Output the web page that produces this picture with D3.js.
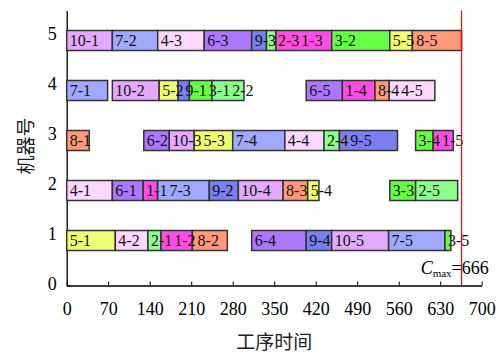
<!DOCTYPE html>
<html>
<head>
<meta charset="utf-8">
<script src="https://cdn.jsdelivr.net/npm/d3@7"></script>
<style>
  body { margin: 0; background: #fff; }
</style>
</head>
<body>
<svg id="chart" width="502" height="354"></svg>
<script>
// Machine axis and time axis ticks
const machineTicks = [0, 1, 2, 3, 4, 5];
const timeTicks = [0, 70, 140, 210, 280, 350, 420, 490, 560, 630, 700];

// Operations: "job-op" label, machine, start and end time
const opLabels = [
  "10-1", "7-2", "4-3", "6-3", "9-3", "2-3", "1-3", "3-2", "5-5", "8-5",
  "7-1", "10-2", "5-2", "9-1", "3-1", "2-2", "6-5", "1-4", "8-4", "4-5",
  "8-1", "6-2", "10-3", "5-3", "7-4", "4-4", "2-4", "9-5", "3-4", "1-5",
  "4-1", "6-1", "1-1", "7-3", "9-2", "10-4", "8-3", "5-4", "3-3", "2-5",
  "5-1", "4-2", "2-1", "1-2", "8-2", "6-4", "9-4", "10-5", "7-5", "3-5"
];
const opMachine = [
  5, 5, 5, 5, 5, 5, 5, 5, 5, 5,
  4, 4, 4, 4, 4, 4, 4, 4, 4, 4,
  3, 3, 3, 3, 3, 3, 3, 3, 3, 3,
  2, 2, 2, 2, 2, 2, 2, 2, 2, 2,
  1, 1, 1, 1, 1, 1, 1, 1, 1, 1
];
const opStart = [
  0, 77, 153.5, 232, 312, 337, 353, 447, 545, 583,
  0, 77, 156, 188, 207, 245, 404, 465, 520, 544,
  0, 130, 173, 215, 280, 368, 434, 460, 588.5, 618,
  0, 77, 129, 153.5, 240.5, 289.5, 365, 406.5, 545, 588.5,
  0, 82, 137, 159, 212, 312, 404, 447, 543, 638
];
const opEnd = [
  77, 153.5, 232, 312, 337, 353, 447, 545, 583, 666,
  69, 156, 188, 207, 245, 299, 465, 520, 544, 621,
  38, 173, 215, 280, 368, 434, 460, 558, 618, 652,
  77, 129, 153, 240.5, 289.5, 365, 406.5, 425.5, 588.5, 659.5,
  82, 137, 159, 212, 271, 404, 447, 543, 638, 648
];
const makespan = 666;

// Fill colour for jobs 1..10
const jobColors = [
  "#ff4fe0", "#8cff8c", "#66ff44", "#fcd8ff", "#eeff77",
  "#ab78ff", "#a0a8ff", "#ff9a7a", "#7b80f0", "#e3aaff"
];

const ops = opLabels.map((label, i) => ({
  label,
  job: +label.split("-")[0],
  machine: opMachine[i],
  start: opStart[i],
  end: opEnd[i]
}));

const svg = d3.select("#chart");
const serif = "'Liberation Serif', 'Times New Roman', serif";
const cjk = "'Noto Sans CJK SC', sans-serif";

const x = d3.scaleLinear().domain([0, 700]).range([66.7, 481.7]);
const y = d3.scaleLinear().domain([0, 5.5]).range([285.5, 10.5]);

// Axes with inward ticks
const xAxis = svg.append("g")
  .attr("transform", `translate(0,${y(0)})`)
  .call(d3.axisBottom(x).tickValues(timeTicks).tickFormat(d3.format("d"))
    .tickSizeInner(-4).tickSizeOuter(0).tickPadding(17));
const yAxis = svg.append("g")
  .attr("transform", `translate(${x(0)},0)`)
  .call(d3.axisLeft(y).tickValues(machineTicks).tickFormat(d3.format("d"))
    .tickSizeInner(-4).tickSizeOuter(0).tickPadding(10));

[xAxis, yAxis].forEach(g => {
  g.selectAll("path.domain").attr("stroke", "#000").attr("stroke-width", 1.3);
  g.selectAll(".tick line").attr("stroke", "#000").attr("stroke-width", 1);
  g.selectAll(".tick text")
    .attr("font-family", serif).attr("font-size", 18).attr("fill", "#000");
});
yAxis.selectAll(".tick text").attr("dy", "0.2em");

// Operation bars
const barTop = m => y(m + 0.1);
const barH = y(-0.3) - y(0.1);

svg.append("g").selectAll("rect")
  .data(ops)
  .join("rect")
  .attr("x", d => x(d.start))
  .attr("y", d => barTop(d.machine))
  .attr("width", d => x(d.end) - x(d.start))
  .attr("height", barH)
  .attr("fill", d => jobColors[d.job - 1])
  .attr("stroke", "#333")
  .attr("stroke-width", 1.5);

// Operation labels: left-aligned in each bar, pushed right when the
// previous label on the same machine would run into it
const labels = svg.append("g").selectAll("text")
  .data(ops)
  .join("text")
  .attr("x", d => x(d.start) + 3)
  .attr("y", d => barTop(d.machine) + barH / 2)
  .attr("dy", "0.36em")
  .attr("font-family", serif)
  .attr("font-size", 16)
  .attr("fill", "#111")
  .text(d => d.label);

d3.groups(labels.nodes(), n => d3.select(n).datum().machine).forEach(([, nodes]) => {
  nodes.sort((a, b) => d3.select(a).datum().start - d3.select(b).datum().start);
  let prevEnd = -Infinity;
  nodes.forEach(n => {
    const d = d3.select(n).datum();
    const lx = Math.max(x(d.start) + 3, prevEnd + 2);
    n.setAttribute("x", lx);
    prevEnd = lx + n.getComputedTextLength();
  });
});

// Makespan marker
svg.append("line")
  .attr("x1", x(makespan)).attr("x2", x(makespan))
  .attr("y1", y(5.5)).attr("y2", y(0))
  .attr("stroke", "#e8121a").attr("stroke-width", 1.3);

const cmax = svg.append("text")
  .attr("x", x(597)).attr("y", y(0.24))
  .attr("font-family", serif).attr("font-size", 18).attr("fill", "#000");
cmax.append("tspan").attr("font-style", "italic").text("C");
cmax.append("tspan").attr("font-size", 11).attr("dy", 3).text("max");
cmax.append("tspan").attr("dy", -3).text("=" + makespan);

// Axis titles
svg.append("text")
  .attr("x", x(350)).attr("y", 349)
  .attr("text-anchor", "middle")
  .attr("font-family", cjk).attr("font-size", 19).attr("fill", "#222")
  .text("工序时间");

svg.append("text")
  .attr("transform", `translate(24,${(y(0) + y(5.5)) / 2 - 2}) rotate(-90)`)
  .attr("text-anchor", "middle")
  .attr("dominant-baseline", "central")
  .attr("font-family", cjk).attr("font-size", 19).attr("fill", "#222")
  .text("机器号");
</script>
</body>
</html>
